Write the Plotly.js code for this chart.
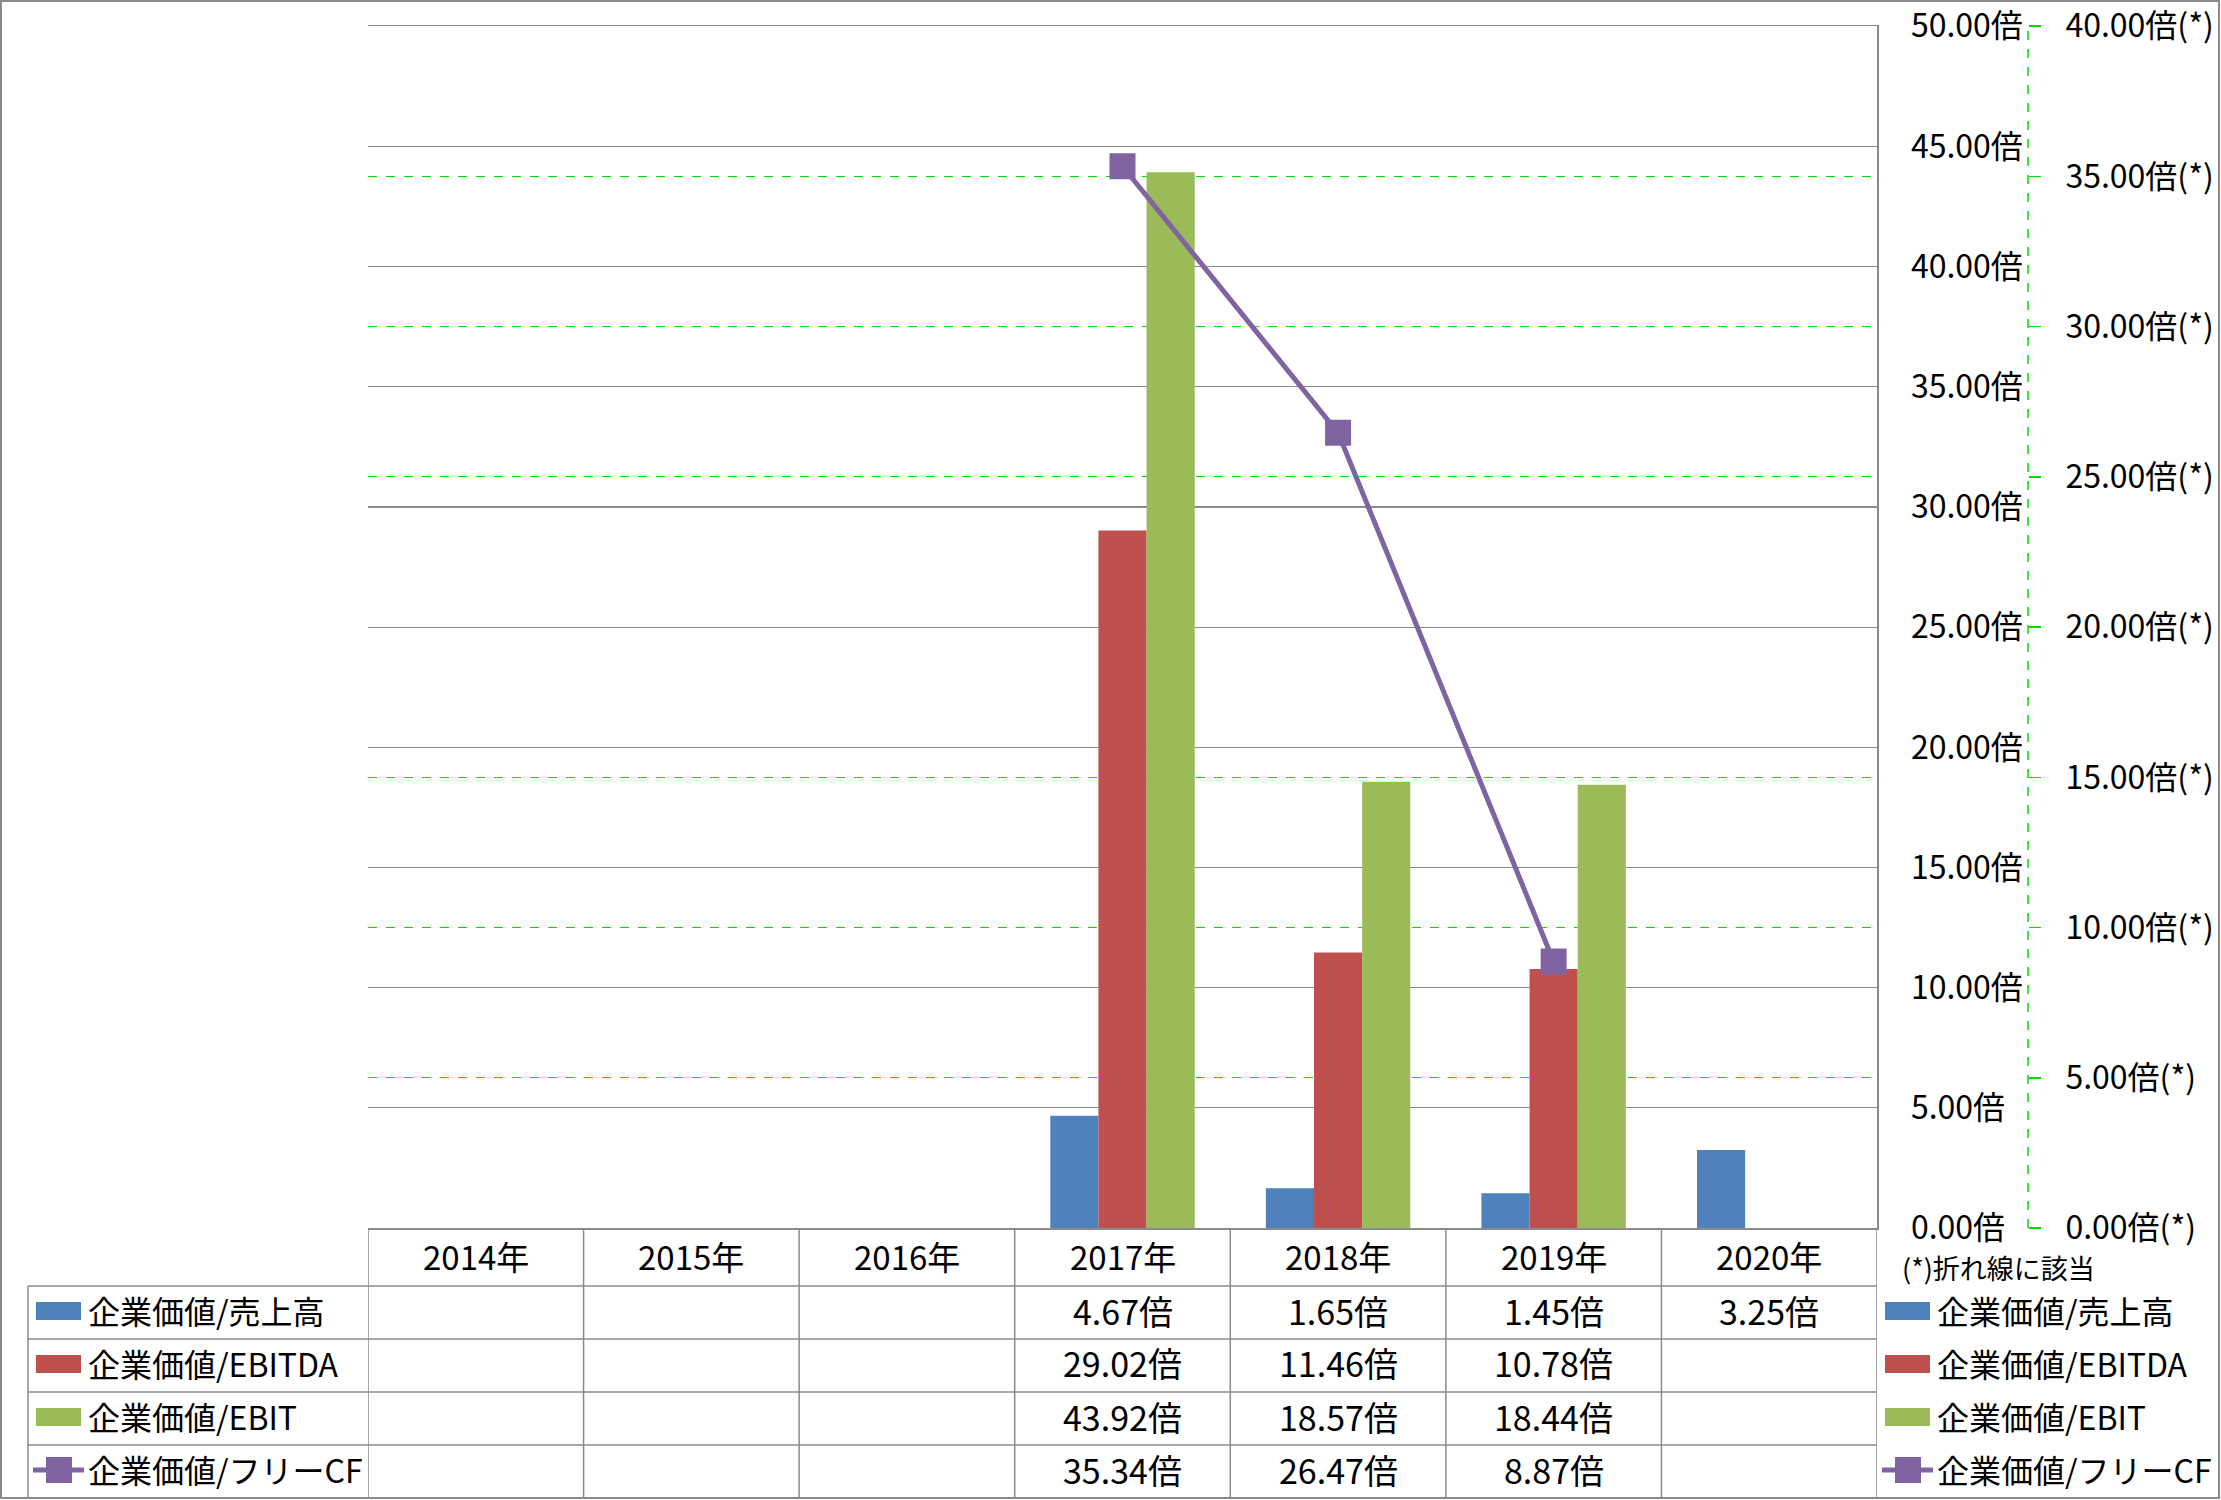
<!DOCTYPE html>
<html>
<head>
<meta charset="utf-8">
<script src="https://cdn.plot.ly/plotly-3.0.1.min.js"></script>
<style>html,body{margin:0;padding:0;background:#fff}#chart{width:2221px;height:1500px}</style>
</head>
<body>
<div id="chart"></div>
<script>
// ---- data ----
const years = ['2014年','2015年','2016年','2017年','2018年','2019年','2020年'];
const seriesNames = ['企業価値/売上高','企業価値/EBITDA','企業価値/EBIT','企業価値/フリーCF'];
const evSales  = [null, null, null, 4.67, 1.65, 1.45, 3.25];
const evEbitda = [null, null, null, 29.02, 11.46, 10.78, null];
const evEbit   = [null, null, null, 43.92, 18.57, 18.44, null];
const evFcf    = [null, null, null, 35.34, 26.47, 8.87, null];
const note = '(*)折れ線に該当';

// ---- style / geometry ----
const FONT = '"Noto Sans CJK JP", "Noto Sans", sans-serif';
const colors = ['#4F81BD','#C0504D','#9BBB59','#8064A2'];
const GRID = '#8a8a8a';
const GREEN = '#00DD00';
const W = 2221, H = 1500;
const mL = 368, mR = 40, mT = 26, mB = 272;
const PW = W - mL - mR, PH = H - mT - mB;
const xp = px => (px - mL) / PW;
const yp = py => (H - mB - py) / PH;
const plotRight = 1877;

const data = [
  {type:'bar', name:seriesNames[0], x:years, y:evSales, marker:{color:colors[0]}},
  {type:'bar', name:seriesNames[1], x:years, y:evEbitda, marker:{color:colors[1]}},
  {type:'bar', name:seriesNames[2], x:years, y:evEbit, marker:{color:colors[2]}},
  {type:'scatter', mode:'lines+markers', name:seriesNames[3], x:years, y:evFcf, yaxis:'y2',
   line:{color:colors[3], width:5}, marker:{symbol:'square', size:26, color:colors[3]}},
  // invisible helper trace so the gray grid overlay axis is instantiated
  {type:'scatter', mode:'none', x:[years[0]], y:[0], yaxis:'y3', hoverinfo:'skip', showlegend:false}
];

const shapes = [];
const annotations = [];
const lineStyle = {color:GRID, width:1.5};

// outer border
shapes.push({type:'rect', xref:'paper', yref:'paper', x0:xp(1), x1:xp(2219), y0:yp(1498), y1:yp(1), line:{color:GRID, width:2}});
// secondary axis dashed line
const y2pos = xp(2028);
shapes.push({type:'line', xref:'paper', yref:'paper', x0:y2pos, x1:y2pos, y0:0, y1:1, line:{color:GREEN, width:1.5, dash:'dash'}});

// table geometry
const rowLines = [1286, 1339, 1392, 1445];
const tableBottom = 1498;
rowLines.forEach(py => shapes.push({type:'line', xref:'paper', yref:'paper', x0:xp(28), x1:xp(plotRight), y0:yp(py), y1:yp(py), line:lineStyle}));
for (let k = 0; k <= years.length; k++) {
  shapes.push({type:'line', xref:'x', yref:'paper', x0:k-0.5, x1:k-0.5, y0:yp(1228), y1:yp(tableBottom), line:lineStyle});
}
shapes.push({type:'line', xref:'paper', yref:'paper', x0:xp(28), x1:xp(28), y0:yp(1286), y1:yp(tableBottom), line:lineStyle});

// header years
const txt = (s, size) => ({text:s, font:{family:FONT, size:size, color:'#000'}});
years.forEach(y => annotations.push(Object.assign({xref:'x', yref:'paper', x:y, y:yp(1256), showarrow:false, xanchor:'center', yanchor:'middle'}, txt(y, 33))));

const allSeries = [evSales, evEbitda, evEbit, evFcf];
const rowCenters = [1310, 1363, 1416, 1469];
allSeries.forEach((s, r) => {
  s.forEach((v, i) => {
    if (v !== null) annotations.push(Object.assign({xref:'x', yref:'paper', x:years[i], y:yp(rowCenters[r]), showarrow:false, xanchor:'center', yanchor:'middle'}, txt(v.toFixed(2) + '倍', 34)));
  });
});

// legend keys (left table column and right side)
function legendKey(x0, r) {
  const cy = rowCenters[r] + 1;
  if (r < 3) {
    shapes.push({type:'rect', xref:'paper', yref:'paper', x0:xp(x0), x1:xp(x0+45), y0:yp(cy+9), y1:yp(cy-9), fillcolor:colors[r], line:{width:0}});
  } else {
    shapes.push({type:'line', xref:'paper', yref:'paper', x0:xp(x0-3), x1:xp(x0+48), y0:yp(cy), y1:yp(cy), line:{color:colors[3], width:5}});
    shapes.push({type:'rect', xref:'paper', yref:'paper', x0:xp(x0+10), x1:xp(x0+36), y0:yp(cy+13), y1:yp(cy-13), fillcolor:colors[3], line:{width:0}});
  }
  annotations.push(Object.assign({xref:'paper', yref:'paper', x:xp(x0+50), y:yp(rowCenters[r]), showarrow:false, xanchor:'left', yanchor:'middle'}, txt(seriesNames[r], 32)));
}
for (let r = 0; r < 4; r++) { legendKey(36, r); legendKey(1885, r); }
annotations.push(Object.assign({xref:'paper', yref:'paper', x:xp(1900), y:yp(1267), showarrow:false, xanchor:'left', yanchor:'middle'}, txt(note, 27)));

const tickFont = {family:FONT, size:32, color:'#000'};
const layout = {
  width:W, height:H,
  margin:{l:mL, r:mR, t:mT, b:mB, pad:0},
  paper_bgcolor:'#fff', plot_bgcolor:'#fff',
  showlegend:false,
  barmode:'group', bargap:0.33, bargroupgap:0,
  font:{family:FONT, size:30, color:'#000'},
  xaxis:{type:'category', domain:[0, xp(plotRight)], range:[-0.5, years.length-0.5], showticklabels:false, ticks:'',
         showgrid:false, showline:true, mirror:true, linecolor:GRID, linewidth:1.5, zeroline:false, automargin:false},
  yaxis:{range:[0,50.01], dtick:5, tick0:0, side:'right', tickformat:'.2f', ticksuffix:'倍',
         showgrid:true, gridcolor:GRID, gridwidth:1.2, zeroline:false,
         showline:true, linecolor:GRID, linewidth:1.5,
         ticks:'outside', ticklen:26, tickcolor:'rgba(0,0,0,0)', ticklabeloverflow:'allow',
         tickfont:tickFont, automargin:false},
  yaxis2:{range:[0,40.008], dtick:5, tick0:0, overlaying:'y', anchor:'free', position:y2pos, side:'right',
          tickformat:'.2f', ticksuffix:'倍(*)', ticklabeloverflow:'allow',
          showgrid:true, gridcolor:GREEN, gridwidth:1, griddash:'dash', zeroline:false, showline:false,
          ticks:'outside', ticklen:12, tickcolor:GREEN, tickwidth:1.5, ticklabelstandoff:18,
          tickfont:tickFont, automargin:false},
  // overlay axis repeating the gray primary grid so it sits above the green dashed grid
  yaxis3:{range:[0,50.01], dtick:5, tick0:0, overlaying:'y', side:'right', showticklabels:false, ticks:'',
          showgrid:true, gridcolor:GRID, gridwidth:1.2, zeroline:false, showline:false, automargin:false},
  shapes:shapes,
  annotations:annotations
};

Plotly.newPlot('chart', data, layout, {displayModeBar:false, staticPlot:true});
</script>
</body>
</html>
